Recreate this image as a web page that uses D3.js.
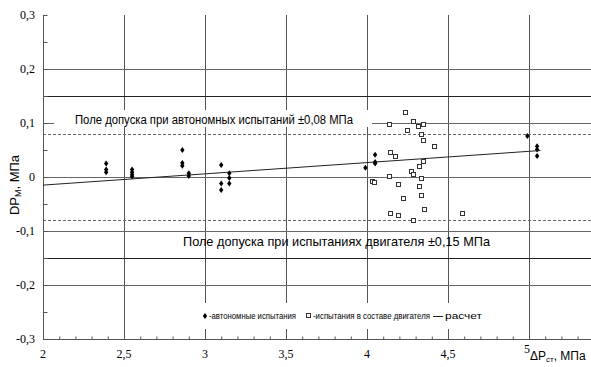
<!DOCTYPE html>
<html>
<head>
<meta charset="utf-8">
<script src="https://cdnjs.cloudflare.com/ajax/libs/d3/7.8.5/d3.min.js"></script>
<style>
  body { margin: 0; background: #fff; }
  svg { display: block; }
</style>
</head>
<body>
<div id="chart"></div>
<script>
// автономные испытания
const autoX = [2.39, 2.39, 2.39, 2.55, 2.55, 2.55, 2.55, 2.86, 2.86, 2.86, 2.90, 2.90,
  3.10, 3.10, 3.10, 3.15, 3.15, 3.15, 3.99, 4.05, 4.05, 4.05, 4.99, 5.05, 5.05, 5.05];
const autoY = [0.025, 0.014, 0.009, 0.014, 0.009, 0.004, 0.001, 0.050, 0.026, 0.021, 0.007, 0.002,
  0.022, -0.012, -0.024, 0.007, -0.002, -0.012, 0.017, 0.041, 0.028, 0.025, 0.076, 0.057, 0.051, 0.039];

// испытания в составе двигателя
const engX = [4.24, 4.14, 4.29, 4.32, 4.35, 4.25, 4.34, 4.35, 4.42, 4.15, 4.18, 4.35, 4.33, 4.28,
  4.29, 4.14, 4.34, 4.04, 4.05, 4.20, 4.33, 4.23, 4.34, 4.36, 4.15, 4.20, 4.59, 4.29];
const engY = [0.118, 0.097, 0.101, 0.093, 0.096, 0.085, 0.077, 0.067, 0.055, 0.044, 0.037, 0.028, 0.019, 0.009,
  0.004, 0.000, -0.003, -0.009, -0.011, -0.014, -0.018, -0.040, -0.035, -0.061, -0.069, -0.072, -0.069, -0.082];

// расчет
const calcX = [2.0, 5.07];
const calcY = [-0.015, 0.049];

const xTicks = [2, 2.5, 3, 3.5, 4, 4.5, 5];
const xGrid = [2.5, 3, 3.5, 4, 4.5, 5];
const yTicks = [-0.3, -0.2, -0.1, 0, 0.1, 0.2, 0.3];
const yGrid = [0.2, 0.15, 0.1, 0, -0.1, -0.15, -0.2];
const tolAuto = 0.08;

const W = 591, H = 367;
const fmt = d => String(d).replace('.', ',');
const sans = '"Liberation Sans", Arial, sans-serif';

const svg = d3.select('#chart').append('svg').attr('width', W).attr('height', H);

const x = d3.scaleLinear().domain([2, 5.4]).range([43, 593.8]);
const y = d3.scaleLinear().domain([-0.3, 0.3]).range([339, 15]);

// сетка
svg.append('g').selectAll('line').data(xGrid).enter().append('line')
  .attr('x1', d => Math.round(x(d)) + 0.5).attr('x2', d => Math.round(x(d)) + 0.5)
  .attr('y1', y(0.3)).attr('y2', y(-0.3))
  .attr('stroke', '#555');

svg.append('g').selectAll('line').data(yGrid).enter().append('line')
  .attr('x1', x(2)).attr('x2', W)
  .attr('y1', d => Math.round(y(d)) + 0.5).attr('y2', d => Math.round(y(d)) + 0.5)
  .attr('stroke', d => Math.abs(d) === 0.15 ? '#222' : '#666');

svg.append('g').selectAll('line').data([tolAuto, -tolAuto]).enter().append('line')
  .attr('x1', x(2)).attr('x2', W)
  .attr('y1', d => Math.round(y(d)) + 0.5).attr('y2', d => Math.round(y(d)) + 0.5)
  .attr('stroke', '#666').attr('stroke-dasharray', '3,2');

// оси
const yAxis = d3.axisRight(y).tickValues(d3.range(-0.3, 0.301, 0.05)).tickSize(4).tickFormat('');
const gy = svg.append('g').attr('transform', `translate(${x(2) + 0.5},0)`).call(yAxis);
gy.selectAll('path,line').attr('stroke', '#555');
gy.select('.domain').attr('d', `M0,${y(0.3)}V${y(-0.3)}`);

const xAxis = d3.axisTop(x).tickValues(d3.range(2, 5.41, 0.1)).tickSize(3).tickFormat('');
const gx = svg.append('g').attr('transform', `translate(0,${Math.round(y(-0.3)) + 0.5})`).call(xAxis);
gx.selectAll('path,line').attr('stroke', '#555');
gx.select('.domain').attr('d', `M${x(2)},0H${W}`);

svg.append('g').selectAll('text').data(yTicks).enter().append('text')
  .attr('x', 35).attr('y', d => y(d) + 4)
  .attr('text-anchor', 'end')
  .style('font', '12px "Liberation Serif", "Times New Roman", serif')
  .text(fmt);

svg.append('g').selectAll('text').data(xTicks).enter().append('text')
  .attr('x', d => d === 5 ? x(d) - 2 : x(d)).attr('y', d => d === 5 ? 353 : 358)
  .attr('text-anchor', 'middle')
  .style('font', '12px "Liberation Serif", "Times New Roman", serif')
  .text(fmt);

// подписи осей
const yt = svg.append('text')
  .attr('transform', `translate(19,185) rotate(-90)`)
  .attr('text-anchor', 'middle')
  .style('font', `13px ${sans}`);
yt.append('tspan').text('DP');
yt.append('tspan').attr('font-size', 9).attr('dy', 2).text('М');
yt.append('tspan').attr('dy', -2).text(', МПа');

const xt = svg.append('text').attr('x', 530).attr('y', 360)
  .style('font', `12px ${sans}`);
xt.append('tspan').text('ΔP');
xt.append('tspan').attr('font-size', 8).attr('dy', 2).text('ст');
xt.append('tspan').attr('dy', -2).text(', МПа');

// поля допуска
svg.append('rect').attr('x', 54).attr('y', 110).attr('width', 318).attr('height', 17).attr('fill', '#fff');
svg.append('text').attr('x', 75).attr('y', 123.5)
  .attr('textLength', 278).attr('lengthAdjust', 'spacingAndGlyphs')
  .style('font', `12.5px ${sans}`)
  .text('Поле допуска при автономных испытаний ±0,08 МПа');
svg.append('text').attr('x', 183).attr('y', 246)
  .attr('textLength', 307).attr('lengthAdjust', 'spacingAndGlyphs')
  .style('font', `12.8px ${sans}`)
  .text('Поле допуска при испытаниях двигателя ±0,15 МПа');

// расчет
const line = d3.line().x(d => x(d[0])).y(d => y(d[1]));
svg.append('path').datum(d3.zip(calcX, calcY))
  .attr('d', line).attr('fill', 'none').attr('stroke', '#222').attr('stroke-width', 1);

// точки
const diamond = 'M0,-3L2.2,0L0,3L-2.2,0Z';
svg.append('g').selectAll('path').data(d3.zip(autoX, autoY)).enter().append('path')
  .attr('d', diamond)
  .attr('transform', d => `translate(${x(d[0])},${y(d[1])})`)
  .attr('fill', '#000');

svg.append('g').selectAll('rect').data(d3.zip(engX, engY)).enter().append('rect')
  .attr('x', d => Math.round(x(d[0])) - 2.5).attr('y', d => Math.round(y(d[1])) - 2.5)
  .attr('width', 4).attr('height', 4)
  .attr('fill', '#fff').attr('stroke', '#333').attr('stroke-width', 1);

// легенда
const lg = svg.append('g').style('font', `8.5px ${sans}`);
lg.append('rect').attr('x', 190).attr('y', 303).attr('width', 300).attr('height', 26).attr('fill', '#fff');
lg.append('path').attr('d', diamond).attr('transform', 'translate(205,316)').attr('fill', '#000');
lg.append('text').attr('x', 209).attr('y', 319)
  .attr('textLength', 87).attr('lengthAdjust', 'spacingAndGlyphs')
  .text('-автономные испытания');
lg.append('rect').attr('x', 306.5).attr('y', 313.5).attr('width', 4).attr('height', 4)
  .attr('fill', '#fff').attr('stroke', '#333');
lg.append('text').attr('x', 313).attr('y', 319)
  .attr('textLength', 117).attr('lengthAdjust', 'spacingAndGlyphs')
  .text('-испытания в составе двигателя');
lg.append('line').attr('x1', 433).attr('x2', 443).attr('y1', 316.5).attr('y2', 316.5).attr('stroke', '#222');
lg.append('text').attr('x', 445).attr('y', 319)
  .attr('textLength', 37).attr('lengthAdjust', 'spacingAndGlyphs')
  .text('расчет');
</script>
</body>
</html>
